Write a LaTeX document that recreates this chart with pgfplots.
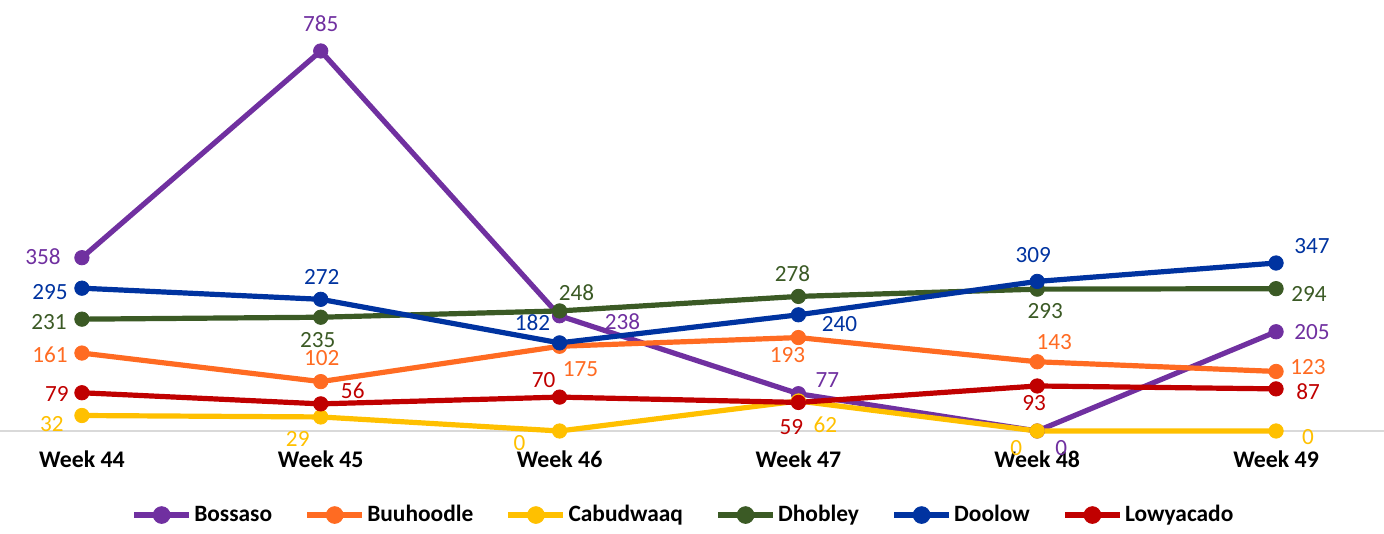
\documentclass[border=0pt]{standalone}
\usepackage{pgfplots}
\usepackage{pgfplotstable}
\pgfplotsset{compat=1.18}
\usepackage{fontspec}
\setmainfont{Carlito}
\definecolor{cBos}{HTML}{7030A0}
\definecolor{cBuu}{HTML}{FF6B22}
\definecolor{cCab}{HTML}{FFC000}
\definecolor{cDho}{HTML}{3B5A25}
\definecolor{cDoo}{HTML}{0033A0}
\definecolor{cLow}{HTML}{C00000}
\definecolor{grayline}{HTML}{D9D9D9}

\pgfplotstableread{
x y dx dy
0 358 -19.5 0.5
1 785 0 13.5
2 238 31.5 -3
3 77 14.5 7
4 0 12 -8.5
5 205 18 0
}\tBos
\pgfplotstableread{
x y dx dy
0 161 -16 -1
1 102 0.5 12
2 175 10.5 -11.5
3 193 -5.5 -8.5
4 143 8.5 10
5 123 16 2
}\tBuu
\pgfplotstableread{
x y dx dy
0 32 -15 -4.5
1 29 -11.5 -11
2 0 -20 -6
3 62 13.5 -12
4 0 -10.5 -8.5
5 0 16 -3
}\tCab
\pgfplotstableread{
x y dx dy
0 231 -16.5 -1.5
1 235 -1.5 -11.5
2 248 8.5 9
3 278 -3 11.5
4 293 4 -11
5 294 16.5 -2.5
}\tDho
\pgfplotstableread{
x y dx dy
0 295 -16 -2
1 272 0.5 11
2 182 -13.5 10
3 240 20.5 -4.5
4 309 -2 13
5 347 18 8.5
}\tDoo
\pgfplotstableread{
x y dx dy
0 79 -12.5 -0.5
1 56 16 6.5
2 70 -8 8.5
3 59 -3.5 -12.5
4 93 -1.5 -8.5
5 87 16 -1.5
}\tLow

\begin{document}
\begin{tikzpicture}
\begin{axis}[
  scale only axis, width=692pt, height=215.5pt,
  xmin=-0.343, xmax=5.452, ymin=0, ymax=890.3,
  axis y line=none, axis x line*=bottom,
  x axis line style={draw=grayline, line width=0.75pt},
  xtick={0,1,2,3,4,5},
  xticklabels={Week 44,Week 45,Week 46,Week 47,Week 48,Week 49},
  xtick style={draw=none}, major tick length=0pt,
  xticklabel style={anchor=base, yshift=-18.5pt, inner sep=0pt, text=black, font=\bfseries\fontsize{11.9}{14}\selectfont},
  ytick=\empty,
  clip=false,
  /pgf/number format/assume math mode=true,
  every axis plot/.append style={line width=2.6pt, line join=round, mark=*, mark size=3.6pt, mark options={line width=0.4pt, solid}},
  nodes near coords,
  visualization depends on={\thisrow{dx}\as\dx},
  visualization depends on={\thisrow{dy}\as\dy},
  nodes near coords style={anchor=center, inner sep=0pt, xshift=\dx*1pt, yshift=\dy*1pt, font=\fontsize{11.6}{14}\selectfont},
  legend columns=6,
  legend style={at={(0.494,-0.195)}, anchor=center, draw=none, fill=none,
    font=\bfseries\fontsize{11.7}{14}\selectfont,
    /tikz/every even column/.append style={column sep=15pt},
    nodes={inner sep=1.25pt}},
  legend image code/.code={\draw[mark repeat=2,mark phase=2,mark size=4.2pt,#1] plot coordinates {(0pt,0pt) (13.75pt,0pt) (27.5pt,0pt)};},
]
\addplot[color=cBos] table[x=x,y=y] {\tBos};
\addlegendentry{Bossaso}
\addplot[color=cBuu] table[x=x,y=y] {\tBuu};
\addlegendentry{Buuhoodle}
\addplot[color=cCab] table[x=x,y=y] {\tCab};
\addlegendentry{Cabudwaaq}
\addplot[color=cDho] table[x=x,y=y] {\tDho};
\addlegendentry{Dhobley}
\addplot[color=cDoo] table[x=x,y=y] {\tDoo};
\addlegendentry{Doolow}
\addplot[color=cLow] table[x=x,y=y] {\tLow};
\addlegendentry{Lowyacado}
\end{axis}
\pgfresetboundingbox
\useasboundingbox ([yshift=-51.5pt]current axis.south west) rectangle (current axis.north east);
\end{tikzpicture}
\end{document}
